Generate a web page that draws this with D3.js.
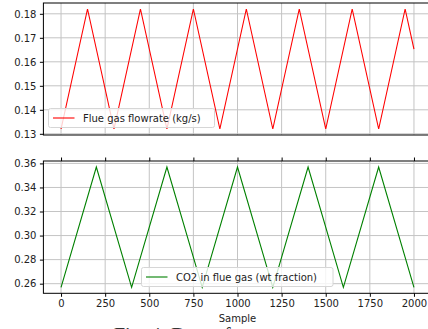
<!DOCTYPE html>
<html>
<head>
<meta charset="utf-8">
<script src="https://cdn.jsdelivr.net/npm/d3@7"></script>
<style>
  body { margin: 0; background: #fff; }
  svg { display: block; }
  .tick text { font-family: "DejaVu Sans", sans-serif; font-size: 10px; fill: #222; }
</style>
</head>
<body>
<div id="my_dataviz"></div>
<script>
// data
var flowSamples = [0, 150, 300, 450, 600, 750, 900, 1050, 1200, 1350, 1500, 1650, 1800, 1950, 2000];
var flowValues = [0.132, 0.182, 0.132, 0.182, 0.132, 0.182, 0.132, 0.182, 0.132, 0.182, 0.132, 0.182, 0.132, 0.182, 0.1653];
var co2Samples = [0, 200, 400, 600, 800, 1000, 1200, 1400, 1600, 1800, 2000];
var co2Values = [0.257, 0.357, 0.257, 0.357, 0.257, 0.357, 0.257, 0.357, 0.257, 0.357, 0.257];
var xTicks = [0, 250, 500, 750, 1000, 1250, 1500, 1750, 2000];
var flowTicks = [0.13, 0.14, 0.15, 0.16, 0.17, 0.18];
var co2Ticks = [0.26, 0.28, 0.30, 0.32, 0.34, 0.36];

var width = 428, height = 329;
var left = 43.4, right = 431.6;

var svg = d3.select("#my_dataviz")
    .append("svg")
    .attr("width", width)
    .attr("height", height);

var x = d3.scaleLinear()
    .domain([-100, 2100])
    .range([left, right]);

function drawPanel(top, bottom, yDomain, yTicks, yFormat, xs, ys, color, label, legendBox, showXLabels) {
    var y = d3.scaleLinear().domain(yDomain).range([bottom, top]);

    // grid
    var g = svg.append("g");
    g.selectAll(".vgrid").data(xTicks).join("line")
        .attr("x1", d => x(d)).attr("x2", d => x(d))
        .attr("y1", top).attr("y2", bottom)
        .style("stroke", "#c4c4c4").style("stroke-width", 1);
    g.selectAll(".hgrid").data(yTicks).join("line")
        .attr("x1", left).attr("x2", right)
        .attr("y1", d => y(d)).attr("y2", d => y(d))
        .style("stroke", "#c4c4c4").style("stroke-width", 1);

    // the series
    var pts = xs.map((d, i) => [d, ys[i]]);
    svg.append("path")
        .datum(pts)
        .attr("fill", "none")
        .attr("stroke", color)
        .attr("stroke-width", 1.1)
        .attr("d", d3.line().x(d => x(d[0])).y(d => y(d[1])));

    // y axis
    var ya = svg.append("g")
        .attr("transform", `translate(${left},0)`)
        .call(d3.axisLeft(y).tickValues(yTicks).tickFormat(yFormat).tickSize(3.5).tickPadding(3.5));
    ya.select(".domain").remove();
    ya.selectAll(".tick line").style("stroke", "#000");

    if (showXLabels) {
        var xa = svg.append("g")
            .attr("transform", `translate(0,${bottom})`)
            .call(d3.axisBottom(x).tickValues(xTicks).tickSize(3.5).tickPadding(3.5).tickFormat(d3.format("d")));
        xa.select(".domain").remove();
        xa.selectAll(".tick line").style("stroke", "#000");
        var xt = svg.append("g")
            .attr("transform", `translate(0,${top})`)
            .call(d3.axisTop(x).tickValues(xTicks).tickSize(3.5).tickFormat(""));
        xt.select(".domain").remove();
        xt.selectAll(".tick line").style("stroke", "#000");
    }

    // frame
    svg.append("rect")
        .attr("x", left).attr("y", top)
        .attr("width", right - left).attr("height", bottom - top)
        .style("fill", "none").style("stroke", "#000").style("stroke-width", 1);

    // legend
    svg.append("rect")
        .attr("x", legendBox[0]).attr("y", legendBox[1])
        .attr("width", legendBox[2]).attr("height", 19)
        .attr("rx", 2)
        .style("fill", "#fff").style("fill-opacity", 0.8)
        .style("stroke", "#d6d6d6").style("stroke-width", 1);
    svg.append("line")
        .attr("x1", legendBox[0] + 4.5).attr("x2", legendBox[0] + 26)
        .attr("y1", legendBox[1] + 9.5).attr("y2", legendBox[1] + 9.5)
        .style("stroke", color).style("stroke-width", 1.1);
    svg.append("text")
        .attr("x", legendBox[0] + 34.5)
        .attr("y", legendBox[1] + 13.5)
        .text(label)
        .style("font-family", "DejaVu Sans, sans-serif")
        .style("font-size", "10px")
        .style("fill", "#222");
}

drawPanel(3, 135, [0.1295, 0.1845], flowTicks, d3.format(".2f"),
    flowSamples, flowValues, "#ff0000", "Flue gas flowrate (kg/s)", [48.5, 108.5, 166], false);

drawPanel(161, 293.3, [0.252, 0.362], co2Ticks, d3.format(".2f"),
    co2Samples, co2Values, "#008000", "CO2 in flue gas (wt fraction)", [141.5, 267.5, 191.5], true);

svg.append("text")
    .attr("x", x(1000))
    .attr("y", 322)
    .attr("text-anchor", "middle")
    .text("Sample")
    .style("font-family", "DejaVu Sans, sans-serif")
    .style("font-size", "10px")
    .style("fill", "#222");

// caption, cut off by the bottom of the picture
svg.append("text")
    .attr("x", 114)
    .attr("y", 342)
    .text("Fig. 4: Data of")
    .style("font-family", "Liberation Serif, serif")
    .style("font-size", "20px")
    .style("fill", "#333");
</script>
</body>
</html>
